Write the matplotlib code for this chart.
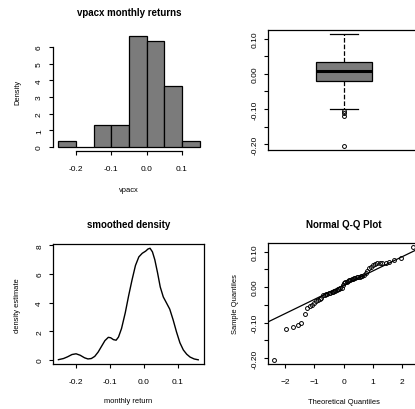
import numpy as np
import matplotlib
matplotlib.use('Agg')
import matplotlib.pyplot as plt
from statistics import NormalDist

plt.rcParams['font.family'] = ['Liberation Sans', 'DejaVu Sans']

returns = [-0.204, -0.119, -0.111, -0.106, -0.101,
           -0.077, -0.058, -0.054, -0.051,
           -0.046, -0.040, -0.036, -0.033, -0.030, -0.023, -0.021, -0.020, -0.019, -0.017,
           -0.016, -0.014, -0.013, -0.011, -0.010, -0.008, -0.006, -0.005, -0.003, -0.001,
           0.005, 0.012, 0.014, 0.016, 0.017, 0.019, 0.021, 0.023, 0.024, 0.026,
           0.027, 0.028, 0.029, 0.030, 0.031, 0.032, 0.034, 0.040, 0.047,
           0.053, 0.058, 0.063, 0.066, 0.067, 0.068, 0.068, 0.069, 0.072, 0.078, 0.083,
           0.112]
breaks = [-0.25, -0.2, -0.15, -0.1, -0.05, 0.0, 0.05, 0.1, 0.15]

# smoothed density curve
dens_x = [-0.252, -0.237, -0.225, -0.212, -0.200, -0.188, -0.175, -0.165, -0.155, -0.145,
          -0.135, -0.125, -0.115, -0.105, -0.098, -0.090, -0.082, -0.075, -0.066, -0.055,
          -0.045, -0.035, -0.025, -0.015, -0.005, 0.005, 0.012, 0.018, 0.025, 0.032,
          0.040, 0.048, 0.057, 0.066, 0.076, 0.086, 0.096, 0.106, 0.116, 0.126,
          0.136, 0.148, 0.160]
dens_y = [0.02, 0.10, 0.22, 0.38, 0.43, 0.33, 0.15, 0.07, 0.10, 0.25,
          0.55, 0.95, 1.35, 1.58, 1.55, 1.42, 1.38, 1.60, 2.20, 3.30,
          4.50, 5.60, 6.60, 7.20, 7.45, 7.60, 7.75, 7.80, 7.55, 7.00,
          6.10, 5.10, 4.40, 4.00, 3.55, 2.80, 1.95, 1.20, 0.70, 0.40,
          0.20, 0.07, 0.01]

hist_ticks = [-0.2, -0.1, 0.0, 0.1]
hist_xlabels = ['-0.2', '-0.1', '0.0', '0.1']
hist_ylabels = ['0', '1', '2', '3', '4', '5', '6']
ret_ticks = [-0.2, -0.15, -0.1, -0.05, 0.0, 0.05, 0.1]
ret_labels = ['-0.20', '', '-0.10', '', '0.00', '', '0.10']
dens_yticks = [0, 2, 4, 6, 8]
qq_xticks = [-2, -1, 0, 1, 2]

fill = '#7b7b7b'
fs_tick = 6
fs_lab = 5.4
fs_title = 7


def r_axes(ax, box=True):
    ax.tick_params(direction='out', length=3, width=0.8, labelsize=fs_tick, pad=7)
    ax.tick_params(axis='y', pad=4)
    for lab in ax.get_yticklabels():
        lab.set_rotation(90)
        lab.set_va('center')
    for s in ax.spines.values():
        s.set_linewidth(0.9)
        s.set_visible(box)


def labels(ax, title, xlab, ylab, ty, xl, yl):
    if title:
        ax.set_title(title, y=ty, pad=0, va='center', fontsize=fs_title, fontweight='bold')
    if xlab:
        ax.set_xlabel(xlab, fontsize=fs_lab, va='center')
        ax.xaxis.set_label_coords(0.5, xl)
    if ylab:
        ax.set_ylabel(ylab, fontsize=fs_lab, va='center')
        ax.yaxis.set_label_coords(yl, 0.5)


fig = plt.figure(figsize=(4.15, 4.1), dpi=100)

# histogram
ax1 = fig.add_axes([0.1270, 0.6283, 0.3677, 0.2924])
ax1.hist(returns, bins=breaks, density=True, color=fill, edgecolor='black', linewidth=0.9)
ax1.set_xlim(-0.266, 0.166)
ax1.set_ylim(-0.267, 6.93)
ax1.set_xticks(hist_ticks)
ax1.set_xticklabels(hist_xlabels)
ax1.set_yticks(range(len(hist_ylabels)))
ax1.set_yticklabels(hist_ylabels)
r_axes(ax1, box=False)
ax1.spines['left'].set_visible(True)
ax1.spines['bottom'].set_visible(True)
ax1.spines['left'].set_bounds(0, 6)
ax1.spines['bottom'].set_bounds(-0.2, 0.1)
labels(ax1, 'vpacx monthly returns', 'vpacx', 'Density', 1.163, -0.314, -0.227)

# boxplot
ax2 = fig.add_axes([0.6458, 0.6317, 0.3663, 0.2927])
ax2.boxplot(returns, positions=[1], widths=0.4, patch_artist=True, whis=1.5,
            boxprops=dict(facecolor=fill, edgecolor='black', linewidth=0.9),
            medianprops=dict(color='black', linewidth=2.2),
            whiskerprops=dict(color='black', linestyle='--', linewidth=0.9),
            capprops=dict(color='black', linewidth=0.9), capwidths=0.2,
            flierprops=dict(marker='o', markerfacecolor='none', markeredgecolor='black',
                            markersize=2.8, markeredgewidth=0.7))
ax2.set_xlim(0.46, 1.54)
ax2.set_ylim(-0.2166, 0.1246)
ax2.set_xticks([])
ax2.set_yticks(ret_ticks)
ax2.set_yticklabels(ret_labels)
r_axes(ax2)

# smoothed density
ax3 = fig.add_axes([0.1277, 0.1088, 0.3639, 0.2937])
ax3.plot(dens_x, dens_y, color='black', linewidth=1.0)
ax3.set_xlim(-0.268, 0.177)
ax3.set_ylim(-0.31, 8.1)
ax3.set_xticks(hist_ticks)
ax3.set_xticklabels(hist_xlabels)
ax3.set_yticks(dens_yticks)
r_axes(ax3)
labels(ax3, 'smoothed density', 'monthly return', 'density estimate', 1.166, -0.304, -0.232)

# normal q-q plot
n = len(returns)
theo = [NormalDist().inv_cdf((i + 0.5) / n) for i in range(n)]
q1, q3 = np.quantile(returns, [0.25, 0.75])
z1, z3 = NormalDist().inv_cdf(0.25), NormalDist().inv_cdf(0.75)

ax4 = fig.add_axes([0.6458, 0.1098, 0.3639, 0.2951])
ax4.plot(theo, sorted(returns), 'o', markerfacecolor='none', markeredgecolor='black',
         markersize=2.8, markeredgewidth=0.7)
ax4.axline((z1, q1), (z3, q3), color='black', linewidth=0.9)
ax4.set_xlim(-2.585, 2.585)
ax4.set_ylim(-0.2166, 0.1246)
ax4.set_xticks(qq_xticks)
ax4.set_yticks(ret_ticks)
ax4.set_yticklabels(ret_labels)
r_axes(ax4)
labels(ax4, 'Normal Q-Q Plot', 'Theoretical Quantiles', 'Sample Quantiles', 1.157, -0.306, -0.2185)

plt.savefig('out.png', dpi=100)
